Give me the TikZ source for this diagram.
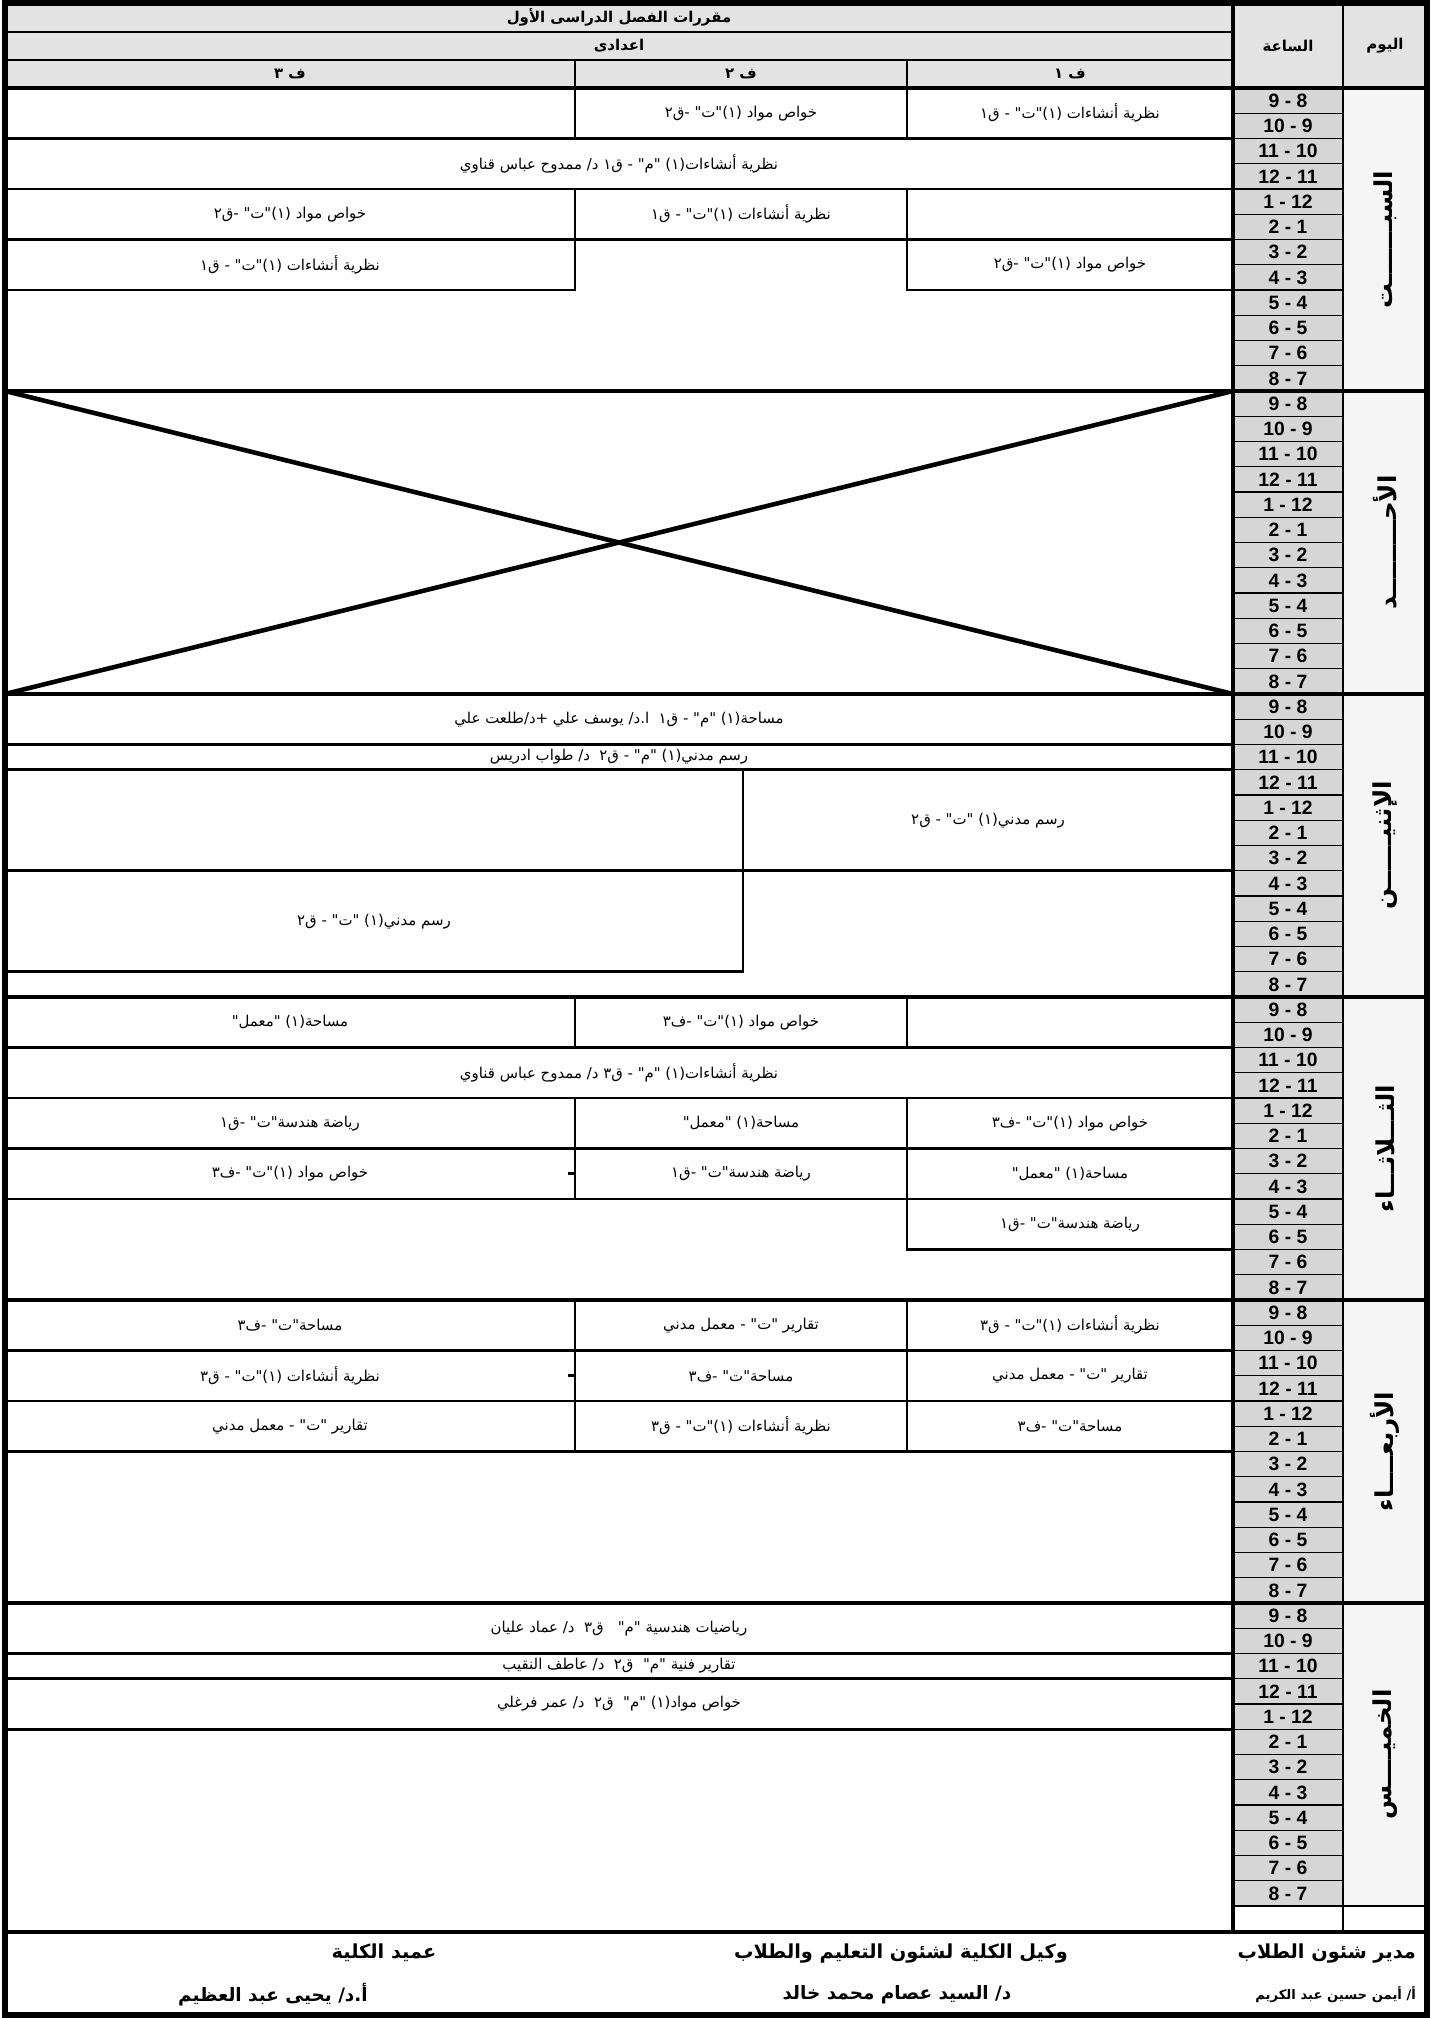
\documentclass[tikz,border=0pt]{standalone}
\usepackage{fontspec}
\setmainfont{Liberation Sans}
\newfontfamily\arabicfont[Script=Arabic]{DejaVu Sans}
\TeXXeTstate=1
\usepackage{tikz}
\newcommand{\artext}[1]{{\arabicfont\beginR #1\endR}}

\tikzset{
	cellbox/.style={draw, line width=1.6pt},
	sepline/.style={line width=2.6pt},
	crossline/.style={line width=2.6pt},
	celltext/.style={font=\fontsize{8.5}{10}\selectfont, inner sep=1pt},
	headtext/.style={font=\fontsize{8.5}{10}\selectfont\bfseries, inner sep=1pt},
	hourcell/.style={draw, line width=0.8pt, fill=gray!32, minimum width=2.2cm, minimum height=0.505cm, inner sep=0pt, font=\fontsize{11}{11}\selectfont\bfseries},
	daybox/.style={draw, line width=1.5pt, fill=gray!8},
	daytext/.style={rotate=90, font=\fontsize{14}{14}\selectfont\bfseries},
	foottext/.style={font=\fontsize{11}{12}\selectfont\bfseries, inner sep=1pt}
}

\begin{document}
\begin{tikzpicture}[x=0.02cm,y=-0.02cm]
	\useasboundingbox (0,0) rectangle (1442,2018);
	% header
	\fill[gray!22] (5,3) rectangle (1427,88);
	\draw[cellbox] (5,3) rectangle (1233,32);
	\draw[cellbox] (5,32) rectangle (1233,60);
	\draw[cellbox] (5,60) rectangle (575,88);
	\draw[cellbox] (575,60) rectangle (907,88);
	\draw[cellbox] (907,60) rectangle (1233,88);
	\draw[cellbox] (1233,3) rectangle (1343,88);
	\draw[cellbox] (1343,3) rectangle (1427,88);
	\node[headtext] (term) at (619,17.5) {\artext{مقررات الفصل الدراسى الأول}};
	\node[headtext] (level) at (619,46) {\artext{اعدادى}};
	\node[headtext] (cls3) at (290,74) {\artext{ف ٣}};
	\node[headtext] (cls2) at (741,74) {\artext{ف ٢}};
	\node[headtext] (cls1) at (1070,74) {\artext{ف ١}};
	\node[headtext] (hourhead) at (1288,45.5) {\artext{الساعة}};
	\node[headtext] (dayhead) at (1385,45.5) {\artext{اليوم}};

	% hours and days
	\foreach \dn [count=\d from 0, evaluate=\d as \b using 88+303*\d] in {السبـــــــت,الأحـــــــــد,الإثنيــــــن,الثـــلاثـــاء,الأربعــــاء,الخميــــس} {
		\draw[daybox] (1343,\b) rectangle (1427,\b+303);
		\node[daytext] (day\d) at (1385,\b+151.5) {\artext{\dn}};
		\foreach \h [count=\i from 0] in {9 - 8,10 - 9,11 - 10,12 - 11,1 - 12,2 - 1,3 - 2,4 - 3,5 - 4,6 - 5,7 - 6,8 - 7}
			\node[hourcell] (h\d-\i) at (1288,\b+25.25*\i+12.625) {\h};
	}
	\draw[line width=0.8pt] (1233,1906) rectangle (1343,1932);

	% saturday
	\draw[cellbox] (907,88) rectangle (1233,138.5);
	\draw[cellbox] (575,88) rectangle (907,138.5);
	\draw[cellbox] (5,88) rectangle (575,138.5);
	\node[celltext] (sat11) at (1070,113.25) {\artext{نظرية أنشاءات (١)"ت" - ق١}};
	\node[celltext] (sat12) at (741,113.25) {\artext{خواص مواد (١)"ت" -ق٢}};
	\draw[cellbox] (5,138.5) rectangle (1233,189);
	\node[celltext] (sat2) at (619,163.75) {\artext{نظرية أنشاءات(١) "م" - ق١ د/ ممدوح عباس قناوي}};
	\draw[cellbox] (907,189) rectangle (1233,239.5);
	\draw[cellbox] (575,189) rectangle (907,239.5);
	\draw[cellbox] (5,189) rectangle (575,239.5);
	\node[celltext] (sat32) at (741,214.25) {\artext{نظرية أنشاءات (١)"ت" - ق١}};
	\node[celltext] (sat33) at (290,214.25) {\artext{خواص مواد (١)"ت" -ق٢}};
	\draw[cellbox] (907,239.5) rectangle (1233,290);
	\draw[cellbox] (5,239.5) rectangle (575,290);
	\node[celltext] (sat41) at (1070,264.75) {\artext{خواص مواد (١)"ت" -ق٢}};
	\node[celltext] (sat43) at (290,264.75) {\artext{نظرية أنشاءات (١)"ت" - ق١}};

	% sunday
	\draw[cellbox] (5,391) rectangle (1233,694);
	\draw[crossline] (5,391) -- (1233,694);
	\draw[crossline] (5,694) -- (1233,391);

	% monday
	\draw[cellbox] (5,694) rectangle (1233,744.5);
	\node[celltext] (mon1) at (619,719.25) {\artext{مساحة(١) "م" - ق١ \ ا.د/ يوسف علي +د/طلعت علي}};
	\draw[cellbox] (5,744.5) rectangle (1233,769.75);
	\node[celltext] (mon2) at (619,757.1) {\artext{رسم مدني(١) "م" - ق٢ \ د/ طواب ادريس}};
	\draw[cellbox] (743,769.75) rectangle (1233,870.75);
	\draw[cellbox] (5,769.75) rectangle (743,870.75);
	\node[celltext] (mon3) at (988,820.25) {\artext{رسم مدني(١) "ت" - ق٢}};
	\draw[cellbox] (5,870.75) rectangle (743,971.75);
	\node[celltext] (mon4) at (374,921.25) {\artext{رسم مدني(١) "ت" - ق٢}};

	% tuesday
	\draw[cellbox] (907,997) rectangle (1233,1047.5);
	\draw[cellbox] (575,997) rectangle (907,1047.5);
	\draw[cellbox] (5,997) rectangle (575,1047.5);
	\node[celltext] (tue12) at (741,1022.25) {\artext{خواص مواد (١)"ت" -ف٣}};
	\node[celltext] (tue13) at (290,1022.25) {\artext{مساحة(١) "معمل"}};
	\draw[cellbox] (5,1047.5) rectangle (1233,1098);
	\node[celltext] (tue2) at (619,1072.75) {\artext{نظرية أنشاءات(١) "م" - ق٣ د/ ممدوح عباس قناوي}};
	\draw[cellbox] (907,1098) rectangle (1233,1148.5);
	\draw[cellbox] (575,1098) rectangle (907,1148.5);
	\draw[cellbox] (5,1098) rectangle (575,1148.5);
	\node[celltext] (tue31) at (1070,1123.25) {\artext{خواص مواد (١)"ت" -ف٣}};
	\node[celltext] (tue32) at (741,1123.25) {\artext{مساحة(١) "معمل"}};
	\node[celltext] (tue33) at (290,1123.25) {\artext{رياضة هندسة"ت" -ق١}};
	\draw[cellbox] (907,1148.5) rectangle (1233,1199);
	\draw[cellbox] (575,1148.5) rectangle (907,1199);
	\draw[cellbox] (5,1148.5) rectangle (575,1199);
	\draw[cellbox] (568,1173.75) -- (575,1173.75);
	\node[celltext] (tue41) at (1070,1173.75) {\artext{مساحة(١) "معمل"}};
	\node[celltext] (tue42) at (741,1173.75) {\artext{رياضة هندسة"ت" -ق١}};
	\node[celltext] (tue43) at (290,1173.75) {\artext{خواص مواد (١)"ت" -ف٣}};
	\draw[cellbox] (907,1199) rectangle (1233,1249.5);
	\node[celltext] (tue51) at (1070,1224.25) {\artext{رياضة هندسة"ت" -ق١}};

	% wednesday
	\foreach \ya/\ta/\tb/\tc [count=\r] in {1300/نظرية أنشاءات (١)"ت" - ق٣/تقارير "ت" - معمل مدني/مساحة"ت" -ف٣,
		1350.5/تقارير "ت" - معمل مدني/مساحة"ت" -ف٣/نظرية أنشاءات (١)"ت" - ق٣,
		1401/مساحة"ت" -ف٣/نظرية أنشاءات (١)"ت" - ق٣/تقارير "ت" - معمل مدني} {
		\draw[cellbox] (907,\ya) rectangle (1233,\ya+50.5);
		\draw[cellbox] (575,\ya) rectangle (907,\ya+50.5);
		\draw[cellbox] (5,\ya) rectangle (575,\ya+50.5);
		\node[celltext] (wed\r1) at (1070,\ya+25.25) {\artext{\ta}};
		\node[celltext] (wed\r2) at (741,\ya+25.25) {\artext{\tb}};
		\node[celltext] (wed\r3) at (290,\ya+25.25) {\artext{\tc}};
	}
	\draw[cellbox] (568,1375.75) -- (575,1375.75);

	% thursday
	\draw[cellbox] (5,1603) rectangle (1233,1653.5);
	\node[celltext] (thu1) at (619,1628.25) {\artext{رياضيات هندسية "م" \ \ ق٣ \ د/ عماد عليان}};
	\draw[cellbox] (5,1653.5) rectangle (1233,1678.75);
	\node[celltext] (thu2) at (619,1666.1) {\artext{تقارير فنية "م" \ ق٢ \ د/ عاطف النقيب}};
	\draw[cellbox] (5,1678.75) rectangle (1233,1729.25);
	\node[celltext] (thu3) at (619,1704) {\artext{خواص مواد(١) "م" \ ق٢ \ د/ عمر فرغلي}};

	% frame
	\foreach \y in {88,391,...,1603}
		\draw[sepline] (5,\y) -- (1427,\y);
	\draw[sepline] (5,1932) -- (1427,1932);
	\draw[sepline] (1233,3) -- (1233,1932);
	\draw[line width=3pt] (5,3) rectangle (1427,2015);

	% signatures
	\node[foottext, anchor=east] (t1) at (1418,1953) {\artext{مدير شئون الطلاب}};
	\node[foottext] (t2) at (901,1953) {\artext{وكيل الكلية لشئون التعليم والطلاب}};
	\node[foottext] (t3) at (384,1953) {\artext{عميد الكلية}};
	%\node[foottext] (n1) at (1339,2004) {};
	\node[foottext, anchor=east, font=\fontsize{7.5}{9}\selectfont\bfseries] (n1) at (1418,1995) {\artext{أ/ أيمن حسين عبد الكريم}};
	\node[foottext, font=\fontsize{10.5}{12}\selectfont\bfseries] (n2) at (897,1995) {\artext{د/ السيد عصام محمد خالد}};
	\node[foottext, font=\fontsize{10.5}{12}\selectfont\bfseries] (n3) at (273,1995) {\artext{أ.د/ يحيى عبد العظيم}};
\end{tikzpicture}
\end{document}
